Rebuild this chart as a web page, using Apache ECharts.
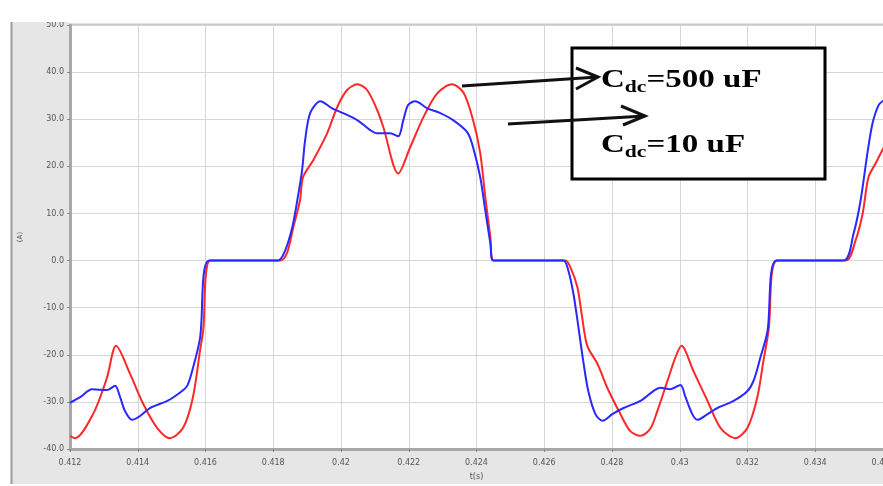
<!DOCTYPE html>
<html>
<head>
<meta charset="utf-8">
<script src="https://cdn.jsdelivr.net/npm/echarts@6/dist/echarts.min.js"></script>
<style>html,body{margin:0;padding:0;background:#fff}#c{width:883px;height:486px}</style>
</head>
<body>
<div id="c"></div>
<script>
// Time (s) and current (A)
var redX = [0.41200,0.41215,0.41268,0.41309,0.41336,0.41377,0.41416,0.41457,0.41495,0.41534,0.41563,0.41584,0.41593,0.41614,
  0.41820,0.41841,0.41859,0.41879,0.41888,0.41918,0.41959,0.41989,0.42018,0.42048,0.42077,0.42107,0.42125,0.42169,0.42204,0.42243,0.42284,0.42328,0.42361,0.42390,0.42411,0.42426,0.42441,0.42450,
  0.42662,0.42677,0.42698,0.42712,0.42727,0.42757,0.42786,0.42825,0.42854,0.42884,0.42913,0.42934,0.42964,0.42987,0.43005,0.43040,0.43082,0.43120,0.43164,0.43200,0.43229,0.43247,0.43262,0.43288,
  0.43489,0.43519,0.43540,0.43557,0.43578,0.43602];
var redY = [-37.2,-37.7,-32.6,-24.9,-18.1,-24.0,-30.4,-35.5,-37.7,-35.5,-29.0,-19.0,-15.0,0,
  0,1.7,7.0,12.8,17.7,21.3,27.0,32.6,36.2,37.4,36.2,31.9,28.3,18.5,24.0,30.4,35.5,37.4,35.7,29.8,22.8,13.4,4.9,0,
  0,-1.4,-5.7,-12.1,-18.1,-21.9,-27.0,-32.6,-36.2,-37.2,-35.7,-31.9,-25.5,-20.6,-18.1,-23.4,-29.8,-35.5,-37.7,-35.5,-29.0,-21.3,-15.0,0,
  0,4.3,10.0,17.7,20.6,24.0];
var blueX = [0.41200,0.41230,0.41265,0.41309,0.41333,0.41348,0.41362,0.41383,0.41407,0.41436,0.41487,0.41525,0.41546,0.41563,0.41584,0.41611,
  0.41814,0.41835,0.41856,0.41871,0.41885,0.41894,0.41909,0.41939,0.41974,0.42006,0.42048,0.42086,0.42107,0.42145,0.42169,0.42184,0.42198,0.42219,0.42255,0.42293,0.42331,0.42373,0.42390,0.42411,0.42426,0.42441,0.42450,
  0.42656,0.42671,0.42686,0.42701,0.42715,0.42730,0.42751,0.42772,0.42801,0.42834,0.42884,0.42922,0.42943,0.42972,0.43002,0.43017,0.43037,0.43052,0.43082,0.43111,0.43159,0.43200,0.43218,0.43238,0.43259,0.43286,
  0.43483,0.43513,0.43534,0.43554,0.43569,0.43587,0.43602];
var blueY = [-30.2,-29.0,-27.3,-27.5,-26.6,-29.0,-31.9,-33.8,-33.0,-31.3,-29.8,-28.0,-26.6,-22.8,-16.4,0,
  0,2.1,7.0,12.8,19.1,25.5,31.3,33.8,32.3,31.3,29.8,27.7,27.0,27.0,26.4,29.8,33.0,33.8,32.3,31.3,29.8,27.2,24.0,17.7,10.6,3.6,0,
  0,-2.1,-7.0,-14.2,-21.3,-27.7,-32.6,-34.0,-32.6,-31.3,-29.8,-27.7,-27.0,-27.3,-26.4,-29.0,-32.6,-33.8,-32.6,-31.3,-29.8,-27.7,-25.5,-20.6,-15.0,0,
  0,5.7,12.8,22.8,29.1,33.0,34.0];
var labelBig = 'Cdc=500 uF';
var labelSmall = 'Cdc=10 uF';

function pairs(xs, ys){ return xs.map(function(x,i){ return [x, ys[i]]; }); }

var chart = echarts.init(document.getElementById('c'), null, {renderer:'canvas'});
var axisLabelStyle = {fontSize: 8, color: '#555', fontFamily: 'DejaVu Sans'};
var richText = {
  a: {fontFamily: 'Liberation Serif', fontWeight: 'bold', fontSize: 26, lineHeight: 28, verticalAlign: 'bottom'},
  b: {fontFamily: 'Liberation Serif', fontWeight: 'bold', fontSize: 17, lineHeight: 28, verticalAlign: 'bottom', padding: [0, 0, -3, 0]}
};
chart.setOption({
  animation: false,
  backgroundColor: '#fff',
  grid: {left: 70, right: 0, top: 25, bottom: 37, show: false, containLabel: false, outerBoundsMode: 'none'},
  xAxis: {
    type: 'value', min: 0.412, max: 0.436, interval: 0.002,
    name: 't(s)', nameLocation: 'middle', nameGap: 24,
    nameTextStyle: {fontSize: 8, color: '#555', fontFamily: 'DejaVu Sans'},
    axisLine: {show: true, onZero: false, lineStyle: {color: '#a8a8a8', width: 3}},
    axisTick: {show: true, length: 3, lineStyle: {color: '#888'}},
    axisLabel: Object.assign({margin: 10, showMaxLabel: true, showMinLabel: true, hideOverlap: false,
      formatter: function(v){ return String(+(+v).toFixed(3)); }}, axisLabelStyle),
    splitLine: {show: true, lineStyle: {color: '#d6d6d6', width: 1}}
  },
  yAxis: {
    type: 'value', min: -40, max: 50, interval: 10,
    name: '(A)', nameLocation: 'middle', nameGap: 46, nameRotate: 90,
    nameTextStyle: {fontSize: 7, color: '#555', fontFamily: 'DejaVu Sans'},
    axisLine: {show: true, lineStyle: {color: '#a8a8a8', width: 3}},
    axisTick: {show: true, length: 3, lineStyle: {color: '#888'}},
    axisLabel: Object.assign({margin: 6, formatter: function(v){ return (+v).toFixed(1); }}, axisLabelStyle),
    splitLine: {show: true, lineStyle: {color: '#d6d6d6', width: 1}}
  },
  series: [
    {type: 'line', name: labelSmall, data: pairs(redX, redY), showSymbol: false, smooth: 0.3,
     lineStyle: {color: '#ff2828', width: 2}, itemStyle: {color: '#ff2828'}, z: 3},
    {type: 'line', name: labelBig, data: pairs(blueX, blueY), showSymbol: false, smooth: 0.3,
     lineStyle: {color: '#2828ff', width: 2}, itemStyle: {color: '#2828ff'}, z: 4}
  ],
  graphic: [
    {type: 'rect', z: -10, silent: true, shape: {x: 12, y: 22, width: 57, height: 462}, style: {fill: '#e6e6e6'}},
    {type: 'rect', z: -10, silent: true, shape: {x: 12, y: 449, width: 871, height: 35}, style: {fill: '#e6e6e6'}},
    {type: 'line', z: -9, silent: true, shape: {x1: 11.5, y1: 22, x2: 11.5, y2: 484}, style: {stroke: '#9a9a9a', lineWidth: 2}},
    {type: 'line', z: -9, silent: true, shape: {x1: 69, y1: 24.5, x2: 883, y2: 24.5}, style: {stroke: '#c8c8c8', lineWidth: 2}},
    {type: 'rect', z: 50, silent: true, shape: {x: 12, y: 0, width: 57, height: 22}, style: {fill: '#fff'}},
    {type: 'rect', z: 60, silent: true, shape: {x: 572, y: 48, width: 253, height: 131}, style: {fill: '#fff', stroke: '#000', lineWidth: 3}},
    {type: 'polyline', z: 61, silent: true, shape: {points: [[462, 86], [598, 77]]}, style: {stroke: '#111', lineWidth: 3, fill: null}},
    {type: 'polyline', z: 61, silent: true, shape: {points: [[576, 68], [598, 77], [576, 89]]}, style: {stroke: '#111', lineWidth: 3, fill: null}},
    {type: 'polyline', z: 61, silent: true, shape: {points: [[508, 124], [645, 116]]}, style: {stroke: '#111', lineWidth: 3, fill: null}},
    {type: 'polyline', z: 61, silent: true, shape: {points: [[621, 106], [645, 116], [623, 125]]}, style: {stroke: '#111', lineWidth: 3, fill: null}},
    {type: 'text', z: 62, silent: true, x: 601, y: 65, scaleX: 1.27,
     style: {text: '{a|C}{b|dc}{a|=500 uF}', fill: '#000', rich: richText}},
    {type: 'text', z: 62, silent: true, x: 601, y: 130, scaleX: 1.27,
     style: {text: '{a|C}{b|dc}{a|=10 uF}', fill: '#000', rich: richText}}
  ]
});
</script>
</body>
</html>
